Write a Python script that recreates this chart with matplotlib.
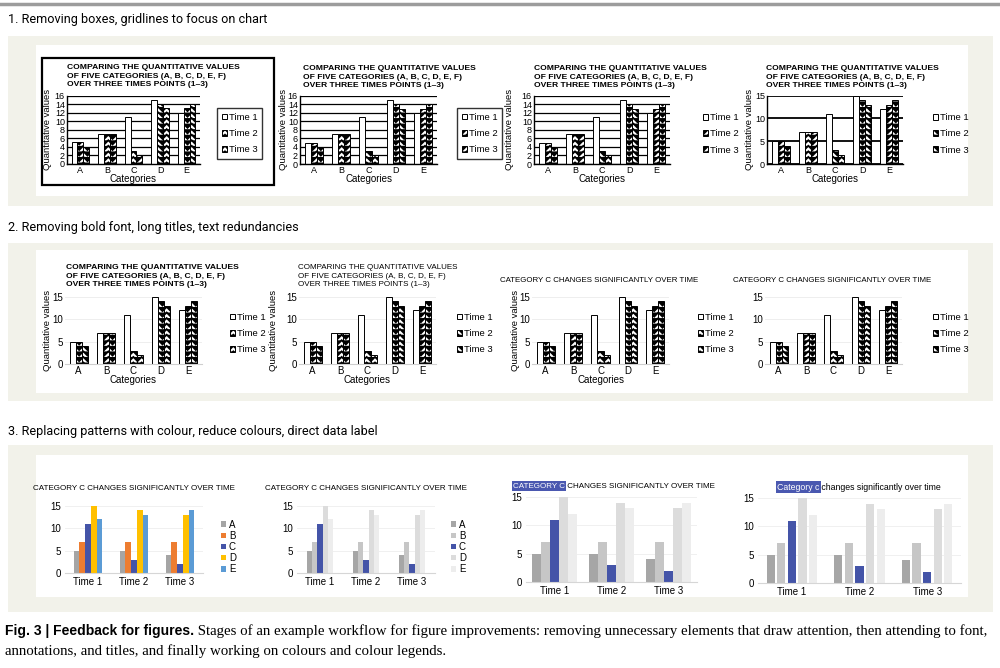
import warnings
import numpy as np
import matplotlib
matplotlib.use('Agg')
import matplotlib.pyplot as plt
import matplotlib.hatch as mhatch
from matplotlib.path import Path
from matplotlib.patches import Rectangle
from matplotlib.lines import Line2D
from matplotlib.text import Annotation

warnings.filterwarnings('ignore')

# data
categories = ['A', 'B', 'C', 'D', 'E']
times = ['Time 1', 'Time 2', 'Time 3']
time1 = [5, 7, 11, 15, 12]
time2 = [5, 7, 3, 14, 13]
time3 = [4, 7, 2, 13, 14]

long_title = 'COMPARING THE QUANTITATIVE VALUES\nOF FIVE CATEGORIES (A, B, C, D, E, F)\nOVER THREE TIMES POINTS (1\u20133)'
short_title = 'CATEGORY C CHANGES SIGNIFICANTLY OVER TIME'
section_titles = ['1. Removing boxes, gridlines to focus on chart',
                  '2. Removing bold font, long titles, text redundancies',
                  '3. Replacing patterns with colour, reduce colours, direct data label']
caption_bold = 'Fig. 3 | Feedback for figures.'
caption_line1 = (' Stages of an example workflow for figure improvements: removing unnecessary '
                 'elements that draw attention, then attending to font,')
caption_line2 = 'annotations, and titles, and finally working on colours and colour legends.'

excel_colours = ['#a5a5a5', '#ed7d31', '#4454a8', '#ffc000', '#5b9bd5']
grey_colours = ['#a6a6a6', '#c6c6c6', '#4454a8', '#dcdcdc', '#ededed']
highlight = '#4a58b0'


# chevron (herringbone) hatch, like the original pattern fills
class ChevronHatch(mhatch.HatchPatternBase):
    def __init__(self, hatch, density):
        n = hatch.count('v') * density
        self.m = 12
        if n:
            self.rows = np.arange(-2, n + 1) / n
            self.num_vertices = len(self.rows) * (2 * self.m + 1)
        else:
            self.rows = np.array([])
            self.num_vertices = 0

    def set_vertices_and_codes(self, vertices, codes):
        k = 2 * self.m + 1
        xs = np.linspace(0, 1, k)
        bump = np.where(np.arange(k) % 2 == 0, 0.5 / self.m, 0.0)
        for i, y in enumerate(self.rows):
            vertices[i * k:(i + 1) * k, 0] = xs
            vertices[i * k:(i + 1) * k, 1] = y + bump
            codes[i * k] = Path.MOVETO
            codes[i * k + 1:(i + 1) * k] = Path.LINETO


mhatch._hatch_types.append(ChevronHatch)

plt.rcParams['font.family'] = ['Liberation Sans', 'DejaVu Sans']
plt.rcParams['hatch.linewidth'] = 1.3

W, H = 1000, 668
fig = plt.figure(figsize=(10, 6.68), dpi=100)


def fx(x):
    return x / W


def fy(y):
    return 1 - y / H


def add_ax(x0, y0, x1, y1):
    ax = fig.add_axes([fx(x0), fy(y1), (x1 - x0) / W, (y1 - y0) / H])
    ax.set_facecolor('none')
    return ax


def rect(x0, y0, x1, y1, **kw):
    fig.add_artist(Rectangle((fx(x0), fy(y1)), (x1 - x0) / W, (y1 - y0) / H,
                             transform=fig.transFigure, **kw))


# page furniture
fig.add_artist(Line2D([0, 1], [fy(4), fy(4)], color='#9c9c9c', lw=2.5, transform=fig.transFigure))
for (y0, y1, wy0, wy1), txt, ty in zip([(36, 206, 45, 196), (243, 401, 250, 393), (445, 612, 455, 597)],
                                       section_titles, [20, 228, 431]):
    rect(8, y0, 993, y1, facecolor='#f2f2ea', edgecolor='none', zorder=-10)
    rect(36, wy0, 968, wy1, facecolor='white', edgecolor='none', zorder=-9)
    fig.text(fx(8), fy(ty), txt, fontsize=9.1, family='Roboto', va='center', ha='left')


def pattern_chart(box, ymax, step, grid, title_xy, title, title_weight, legend_xy,
                  legend_frame, ylab_x=None, xlab_top=None, grid_lw=0.9, ticksize=7):
    ax = add_ax(*box)
    x = np.arange(len(categories))
    w = 0.22
    for i, (vals, hat) in enumerate(zip([time1, time2, time3], [None, 'vvv', 'vvv'])):
        ax.bar(x + (i - 1) * w, vals, w, color='white', edgecolor='black', lw=0.7,
               hatch=hat, label=times[i], zorder=2)
    ax.set_xlim(-0.5, len(categories) - 0.5)
    ax.set_ylim(0, ymax)
    ax.set_xticks(x, categories)
    ax.set_yticks(np.arange(0, ymax + 1, step))
    ax.tick_params(length=0, labelsize=ticksize, pad=1.5)
    for s in ['top', 'right']:
        ax.spines[s].set_visible(False)
    if grid == 'black':
        ax.yaxis.grid(True, color='black', lw=grid_lw)
        for s in ['left', 'bottom']:
            ax.spines[s].set_color('black')
            ax.spines[s].set_linewidth(1)
    else:
        ax.yaxis.grid(True, color='#ebebeb', lw=0.6)
        ax.spines['left'].set_visible(False)
        ax.spines['bottom'].set_color('#cfcfcf')
    ax.set_axisbelow(True)
    if ylab_x is not None:
        ax.set_ylabel('Quantitative values', fontsize=6.8)
        ax.yaxis.set_label_coords(fx(ylab_x + 4.5), fy((box[1] + box[3]) / 2), transform=fig.transFigure)
    if xlab_top is not None:
        ax.set_xlabel('Categories', fontsize=7)
        ax.xaxis.set_label_coords(fx((box[0] + box[2]) / 2), fy(xlab_top), transform=fig.transFigure)
    if title.count('\n'):
        fig.text(fx(title_xy[0]), fy(title_xy[1]), title, fontsize=6.1 if title_weight == 'bold' else 5.8,
                 weight=title_weight, va='top', ha='left', linespacing=1.32)
    else:
        fig.text(fx(title_xy[0]), fy(title_xy[1]), title, fontsize=5.7, va='center', ha='left')
    leg = ax.legend(loc='center left', bbox_to_anchor=(fx(legend_xy[0]), fy(legend_xy[1])),
                    bbox_transform=fig.transFigure, fontsize=6.8, frameon=legend_frame,
                    handlelength=0.55, handleheight=0.55, handletextpad=0.2, labelspacing=0.75,
                    borderpad=0.5, borderaxespad=0, fancybox=False)
    if legend_frame:
        leg.get_frame().set_edgecolor('black')
        leg.get_frame().set_linewidth(1)
    return ax


# row 1
rect(42, 58, 274, 185, facecolor='none', edgecolor='black', lw=1.6, zorder=5)
pattern_chart((67, 95.7, 200, 163.5), 16, 2, 'black', (67, 64), long_title, 'bold', (217, 133.5), True,
              48, 174, ticksize=6.5)
pattern_chart((300, 95.7, 437, 164), 16, 2, 'black', (303, 65), long_title, 'bold', (457, 133.5), True,
              283, 174.5, ticksize=6.5)
pattern_chart((534, 95.7, 670, 164), 16, 2, 'black', (534, 65), long_title, 'bold', (698, 134), False,
              510, 174.5, ticksize=6.5)
pattern_chart((767, 95.7, 903, 164), 15, 5, 'black', (766, 65), long_title, 'bold', (928, 134), False,
              749, 174.5, grid_lw=1.3, ticksize=6.5)

# row 2
pattern_chart((65, 297, 202, 364), 15, 5, 'light', (66, 264), long_title, 'bold', (225, 333.5), False, 48, 375)
pattern_chart((299, 297, 436, 364), 15, 5, 'light', (298, 264), long_title, 'normal', (452, 333.5), False, 273, 375)
pattern_chart((532, 297, 669, 364), 15, 5, 'light', (500, 280), short_title, 'normal', (693, 333.5), False, 515, 375)
pattern_chart((765, 297, 902, 364), 15, 5, 'light', (733, 280), short_title, 'normal', (928, 333.5), False)


def colour_chart(box, colours, width, step, legend_xy=None):
    ax = add_ax(*box)
    x = np.arange(len(times))
    by_cat = np.array([time1, time2, time3]).T
    for j, cat in enumerate(categories):
        ax.bar(x + (j - 2) * step, by_cat[j], width, color=colours[j], label=cat, zorder=2)
    ax.set_xlim(-0.5, len(times) - 0.5)
    ax.set_ylim(0, 15)
    ax.set_xticks(x, times)
    ax.set_yticks([0, 5, 10, 15])
    ax.tick_params(length=0, labelsize=7, pad=3)
    for s in ['top', 'right', 'left']:
        ax.spines[s].set_visible(False)
    ax.spines['bottom'].set_color('#d6d6d6')
    ax.yaxis.grid(True, color='#eeeeee', lw=0.6)
    ax.set_axisbelow(True)
    if legend_xy is not None:
        ax.legend(loc='center left', bbox_to_anchor=(fx(legend_xy[0]), fy(legend_xy[1])),
                  bbox_transform=fig.transFigure, fontsize=7, frameon=False,
                  handlelength=0.5, handleheight=0.5, handletextpad=0.3, labelspacing=0.12,
                  borderpad=0, borderaxespad=0)
    return ax


# row 3
colour_chart((65, 506, 203, 573), excel_colours, 0.124, 0.124, (221, 547))
fig.text(fx(33), fy(489), short_title, fontsize=5.8, va='center', ha='left')
colour_chart((297, 506, 435, 573), grey_colours, 0.11, 0.11, (451, 547))
fig.text(fx(265), fy(489), short_title, fontsize=5.8, va='center', ha='left')
colour_chart((526, 497, 697, 582), grey_colours, 0.15, 0.158)
colour_chart((758, 498, 961, 583), grey_colours, 0.12, 0.157)

t1 = fig.text(fx(513), fy(486), 'CATEGORY C', fontsize=5.8, color='white', va='center', ha='left',
              bbox=dict(boxstyle='square,pad=0.15', facecolor=highlight, edgecolor='none'))
fig.add_artist(Annotation(' CHANGES SIGNIFICANTLY OVER TIME', xy=(1, 0), xycoords=t1,
                          fontsize=5.8, va='bottom', ha='left'))
t2 = fig.text(fx(777), fy(487), 'Category c', fontsize=6.3, color='white', va='center', ha='left',
              bbox=dict(boxstyle='square,pad=0.15', facecolor=highlight, edgecolor='none'))
fig.add_artist(Annotation(' changes significantly over time', xy=(1, 0), xycoords=t2,
                          fontsize=6.3, va='bottom', ha='left'))

# caption
cb = fig.text(fx(5), fy(631), caption_bold, fontsize=10, weight='bold', va='center', ha='left')
fig.add_artist(Annotation(caption_line1, xy=(1, 0), xycoords=cb, fontsize=10.7,
                          family='Liberation Serif', va='bottom', ha='left'))
fig.text(fx(5), fy(651), caption_line2, fontsize=10.7, family='Liberation Serif', va='center', ha='left')

fig.savefig('out.png', dpi=100)
